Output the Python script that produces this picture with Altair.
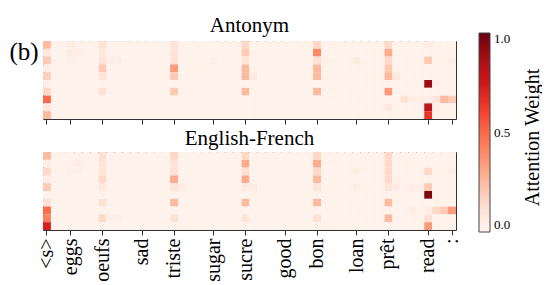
import altair as alt
import pandas as pd

# ---- data ----
n_rows = 10
n_cols = 52
background = 0.02

tick_positions = [0, 3, 7, 12, 16, 21, 25, 30, 34, 39, 43, 48, 51]
tick_labels = ["<s>", "eggs", "oeufs", "sad", "triste", "sugar", "sucre",
               "good", "bon", "loan", "prêt", "read", ":"]
legend_ticks = [0.0, 0.5, 1.0]

# matplotlib "Reds" colour map stops
reds_stops = [0, 0.125, 0.25, 0.375, 0.5, 0.625, 0.75, 0.875, 1.0]
reds_colors = ["#fff5f0", "#fee0d2", "#fcbba1", "#fc9272", "#fb6a4a",
               "#ef3b2c", "#cb181d", "#a50f15", "#67000d"]

# (row, column, attention weight) for cells that stand out from the background
antonym_cells = [
    (0, 0, .25), (1, 0, .08), (2, 0, .20), (3, 0, .05), (4, 0, .18), (5, 0, .04),
    (6, 0, .15), (7, 0, .50), (8, 0, .08), (9, 0, .25),
    (0, 3, .05), (1, 3, .05), (1, 4, .05), (2, 3, .04),
    (0, 7, .10), (1, 7, .07), (2, 7, .10), (3, 7, .20), (4, 7, .10), (6, 7, .12),
    (2, 8, .05), (2, 9, .04),
    (0, 16, .10), (1, 16, .10), (2, 16, .12), (3, 16, .35), (4, 16, .20), (6, 16, .20),
    (2, 21, .04),
    (0, 25, .15), (1, 25, .20), (2, 25, .10), (3, 25, .25), (4, 25, .25), (6, 25, .25),
    (4, 26, .06),
    (0, 34, .15), (1, 34, .40), (2, 34, .12), (3, 34, .25), (4, 34, .25), (6, 34, .25),
    (2, 35, .04), (2, 39, .07),
    (0, 43, .15), (1, 43, .30), (2, 43, .15), (3, 43, .20), (4, 43, .25), (6, 43, .35),
    (8, 43, .08), (4, 44, .08),
    (0, 48, .05), (2, 48, .20), (5, 48, .90), (7, 48, .05), (8, 48, .80), (9, 48, .65),
    (5, 49, .04), (8, 49, .05),
    (7, 45, .12), (7, 46, .05), (7, 47, .05), (7, 49, .10), (7, 50, .25), (7, 51, .20),
    (2, 51, .04),
]

english_french_cells = [
    (0, 0, .25), (1, 0, .05), (2, 0, .15), (3, 0, .05), (4, 0, .20), (5, 0, .03),
    (6, 0, .12), (7, 0, .50), (8, 0, .43), (9, 0, .72),
    (1, 4, .05), (2, 3, .04), (2, 4, .04),
    (0, 7, .12), (1, 7, .10), (2, 7, .10), (3, 7, .15), (4, 7, .07), (6, 7, .12), (8, 7, .15),
    (8, 8, .04), (8, 9, .04),
    (0, 16, .15), (1, 16, .10), (2, 16, .12), (3, 16, .30), (4, 16, .10), (6, 16, .25),
    (8, 16, .12), (4, 17, .06),
    (0, 25, .15), (1, 25, .30), (2, 25, .12), (3, 25, .30), (4, 25, .08), (6, 25, .25),
    (8, 25, .10), (4, 26, .06),
    (0, 34, .15), (1, 34, .30), (2, 34, .15), (3, 34, .25), (4, 34, .10), (6, 34, .25),
    (8, 34, .12),
    (2, 39, .06), (4, 39, .05),
    (0, 43, .15), (1, 43, .15), (2, 43, .15), (3, 43, .15), (4, 43, .10), (6, 43, .25),
    (8, 43, .25), (4, 44, .06),
    (0, 48, .03), (2, 48, .15), (4, 48, .20), (5, 48, .95), (7, 48, .05), (8, 48, .12),
    (9, 48, .35),
    (7, 46, .05), (7, 49, .15), (7, 50, .20), (7, 51, .35),
    (4, 46, .04), (4, 47, .05), (2, 51, .04),
]


def build_frame(cells):
    grid = {(r, c): background for r in range(n_rows) for c in range(n_cols)}
    for r, c, v in cells:
        grid[(r, c)] = v
    return pd.DataFrame([{"row": r, "col": c, "weight": v} for (r, c), v in grid.items()])


label_array = ["" for _ in range(n_cols)]
for p, t in zip(tick_positions, tick_labels):
    label_array[p] = t
label_expr = "[" + ",".join("'" + s + "'" for s in label_array) + "][datum.value]"

FONT = "Liberation Serif"
W, H = 413, 78

reds_scale = alt.Scale(domain=reds_stops, range=reds_colors, interpolate="rgb")

color = alt.Color(
    "weight:Q",
    scale=reds_scale,
    legend=alt.Legend(
        type="gradient", title=None, gradientLength=199, direction="vertical",
        gradientThickness=11, values=legend_ticks, format=".1f",
        labelFont=FONT, labelFontSize=13, labelColor="black", labelOffset=4,
        gradientStrokeColor="#444", gradientStrokeWidth=1, padding=0,
        orient="none", legendX=436, legendY=-8,
    ),
)


def panel(cells, title, show_labels, ylabel):
    return alt.Chart(build_frame(cells)).mark_rect().encode(
        x=alt.X("col:O", scale=alt.Scale(domain=list(range(n_cols))),
                axis=alt.Axis(values=tick_positions, labels=show_labels, labelExpr=label_expr,
                              labelAngle=-90, labelFont=FONT, labelFontSize=20,
                              labelColor="black", labelPadding=3, tickSize=5,
                              tickColor="#333", domain=False, title=None)),
        y=alt.Y("row:O", scale=alt.Scale(domain=list(range(n_rows))),
                axis=alt.Axis(labels=False, ticks=False, domain=False, title=ylabel,
                              titleAngle=0, titleAlign="left", titleBaseline="middle",
                              titleX=-34, titleY=10, titleFont=FONT, titleFontSize=25,
                              titleFontWeight="normal", titleColor="black")),
        color=color,
    ).properties(
        width=W, height=H,
        title=alt.TitleParams(title, font=FONT, fontSize=21, fontWeight="normal",
                              color="black", offset=3, anchor="middle"),
    )


top = panel(antonym_cells, "Antonym", False, "(b)")
bottom = panel(english_french_cells, "English-French", True, "")
heatmaps = alt.vconcat(top, bottom, spacing=2)

# narrow panel that only carries the colour-bar caption as an axis title
caption = alt.Chart(pd.DataFrame({"v": legend_ticks})).mark_point(opacity=0).encode(
    y=alt.Y("v:Q", axis=alt.Axis(title="Attention Weight", orient="right", titleAngle=270,
                                  titleBaseline="top", titlePadding=2, labels=False,
                                  ticks=False, domain=False, grid=False, titleFont=FONT,
                                  titleFontSize=20, titleFontWeight="normal",
                                  titleColor="black"))
).properties(width=1, height=192, view=alt.ViewBackground(strokeOpacity=0))

chart = alt.hconcat(heatmaps, caption, spacing=5).resolve_scale(
    color="independent"
).configure_view(
    stroke="#333", strokeWidth=1
).properties(
    padding={"left": 0, "top": 6, "right": 0, "bottom": 0},
)

chart.save("out.html", embed_options={"renderer": "svg", "actions": False})
